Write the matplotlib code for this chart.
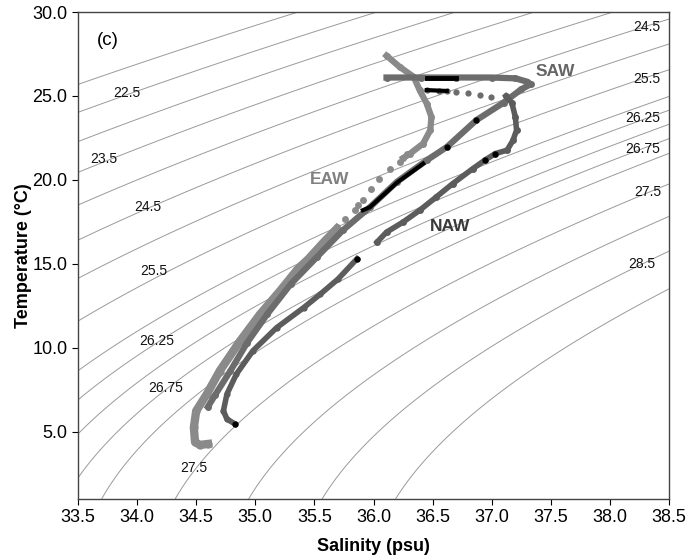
import numpy as np
import matplotlib
matplotlib.use("Agg")
import matplotlib.pyplot as plt

plt.rcParams['font.family'] = ['Liberation Sans', 'DejaVu Sans']

# ---- isopycnal levels (sigma-t, kg/m3) ----
sigma_levels = [22.0, 22.5, 23.0, 23.5, 24.0, 24.5, 25.0, 25.5, 26.0,
                26.25, 26.5, 26.75, 27.0, 27.5, 28.0, 28.5, 29.0]

# labelled isopycnals: (sigma, S, T) for the label placement
left_labels = [(22.5, 33.91, 25.17), (23.5, 33.72, 21.23), (24.5, 34.09, 18.37),
               (25.5, 34.14, 14.55), (26.25, 34.17, 10.43), (26.75, 34.24, 7.64),
               (27.5, 34.48, 2.87)]
right_labels = [(24.5, 38.31, 29.12), (25.5, 38.31, 26.04), (26.25, 38.28, 23.66),
                (26.75, 38.28, 21.87), (27.5, 38.32, 19.28), (28.5, 38.27, 15.0)]

# ---- profiles ----
# Eastern Atlantic Water: mixed layer / upper thermocline (continuous)
eaw_up_S = [36.11, 36.22, 36.34, 36.39, 36.45, 36.49, 36.48, 36.42, 36.31, 36.25]
eaw_up_T = [27.40, 26.74, 26.14, 25.35, 24.55, 23.75, 22.96, 22.17, 21.57, 21.30]
# sparse samples through the thermocline
eaw_mid_S = [36.28, 36.22, 36.14, 36.05, 35.98, 35.91, 35.87, 35.84, 35.76, 35.69]
eaw_mid_T = [21.57, 21.07, 20.67, 20.08, 19.48, 18.78, 18.48, 18.19, 17.69, 17.19]
# central water down to the bottom of the cast
eaw_dn_S = [35.69, 35.58, 35.45, 35.36, 35.21, 35.04, 34.87, 34.70, 34.59, 34.50,
            34.48, 34.49, 34.53, 34.60]
eaw_dn_T = [17.10, 16.30, 15.30, 14.70, 13.40, 12.00, 10.40, 8.64, 7.25, 6.25,
            5.26, 4.40, 4.22, 4.28]

# South Atlantic Water
saw_S = [36.11, 36.40, 36.70, 37.00, 37.20, 37.30, 37.33, 37.25, 37.10, 36.87,
         36.62, 36.45, 36.20, 35.97, 35.74, 35.52, 35.30, 35.10, 34.93, 34.79,
         34.66, 34.60]
saw_T = [26.10, 26.10, 26.10, 26.10, 26.05, 25.85, 25.70, 25.40, 24.60, 23.56,
         21.96, 21.17, 19.90, 18.38, 17.00, 15.40, 13.80, 12.00, 10.30, 8.64,
         7.20, 6.50]
saw_b_S = [36.45, 36.55, 36.62, 36.70, 36.80, 36.90, 36.99]
saw_b_T = [25.35, 25.32, 25.30, 25.25, 25.15, 25.05, 24.95]

# North Atlantic Water
naw_up_S = [37.12, 37.17, 37.20, 37.21, 37.18, 37.13, 37.03, 36.94, 36.84, 36.67,
            36.53, 36.39, 36.25, 36.11, 36.03]
naw_up_T = [25.00, 24.60, 23.75, 22.96, 22.36, 21.77, 21.57, 21.17, 20.67, 19.78,
            18.98, 18.19, 17.49, 16.89, 16.30]
naw_dn_S = [35.86, 35.70, 35.55, 35.41, 35.18, 34.98, 34.84, 34.76, 34.73, 34.76, 34.83]
naw_dn_T = [15.30, 14.10, 13.20, 12.40, 11.20, 9.83, 8.44, 7.25, 6.25, 5.76, 5.46]

# highlighted (black) stretches of the casts
blk_surf_S = [36.45, 36.70]
blk_surf_T = [26.10, 26.10]
blk_sub_S = [36.45, 36.62]
blk_sub_T = [25.35, 25.30]
blk_diag_S = [36.42, 36.20, 35.97, 35.91]
blk_diag_T = [20.97, 19.85, 18.38, 18.20]
blk_pts_S = [37.03, 36.94, 35.86, 34.83, 36.62, 36.87]
blk_pts_T = [21.57, 21.17, 15.30, 5.46, 21.96, 23.56]

# water-mass names: (text, S, T, colour)
mass_labels = [("EAW", 35.63, 20.0, "#808080"),
               ("SAW", 37.54, 26.45, "#656565"),
               ("NAW", 36.65, 17.2, "#3a3a3a")]


def sigma_t(S, T):
    """UNESCO (1981) one-atmosphere density anomaly."""
    rho_w = (999.842594 + 6.793952e-2 * T - 9.095290e-3 * T**2
             + 1.001685e-4 * T**3 - 1.120083e-6 * T**4 + 6.536332e-9 * T**5)
    A = (8.24493e-1 - 4.0899e-3 * T + 7.6438e-5 * T**2
         - 8.2467e-7 * T**3 + 5.3875e-9 * T**4)
    B = -5.72466e-3 + 1.0227e-4 * T - 1.6546e-6 * T**2
    C = 4.8314e-4
    return rho_w + A * S + B * S**1.5 + C * S**2 - 1000.0


fig = plt.figure(figsize=(6.88, 5.59), dpi=100)
ax = fig.add_axes([0.1134, 0.1073, 0.8590, 0.8712])

Sg, Tg = np.meshgrid(np.linspace(33.5, 38.5, 300), np.linspace(1.0, 30.0, 300))
ax.contour(Sg, Tg, sigma_t(Sg, Tg), levels=sigma_levels,
           colors="#9a9a9a", linewidths=0.7, zorder=1)

for lev, s, t in left_labels + right_labels:
    txt = f"{lev:g}" if lev * 4 % 2 else f"{lev:.1f}"
    ax.text(s, t, txt, fontsize=10, ha="center", va="center", color="#111111",
            zorder=2)

eaw_c, saw_c, naw_c = "#8a8a8a", "#6c6c6c", "#5c5c5c"

ax.plot(eaw_up_S, eaw_up_T, "-o", color=eaw_c, lw=4.5, ms=5, mew=0, zorder=3)
ax.plot(eaw_mid_S, eaw_mid_T, "o", color=eaw_c, ms=5, mew=0, zorder=3)
ax.plot(eaw_dn_S, eaw_dn_T, "-o", color=eaw_c, lw=6, ms=6, mew=0, zorder=3)

ax.plot(saw_S, saw_T, "-o", color=saw_c, lw=4.5, ms=5, mew=0, zorder=4)
ax.plot(saw_b_S, saw_b_T, "o", color=saw_c, ms=4.5, mew=0, zorder=4)

ax.plot(naw_up_S, naw_up_T, "-o", color=naw_c, lw=4, ms=5, mew=0, zorder=4)
ax.plot(naw_dn_S, naw_dn_T, "-o", color=naw_c, lw=4, ms=4.5, mew=0, zorder=4)

ax.plot(blk_surf_S, blk_surf_T, "-", color="black", lw=3.5, zorder=5)
ax.plot(blk_sub_S, blk_sub_T, "-", color="black", lw=3, zorder=5)
ax.plot(blk_diag_S, blk_diag_T, "-", color="black", lw=3, zorder=5)
ax.plot(blk_pts_S, blk_pts_T, "o", color="black", ms=4.5, mew=0, zorder=5)

for name, s, t, c in mass_labels:
    ax.text(s, t, name, fontsize=12.5, fontweight="bold", color=c,
            ha="center", va="center", zorder=6)

ax.text(0.05, 0.942, "(c)", transform=ax.transAxes, fontsize=13.5,
        ha="center", va="center")

ax.set_xlim(33.5, 38.5)
ax.set_ylim(1.0, 30.0)
ax.set_xticks(np.arange(33.5, 38.51, 0.5))
ax.set_yticks(np.arange(5.0, 30.01, 5.0))
ax.xaxis.set_major_formatter(matplotlib.ticker.FormatStrFormatter("%.1f"))
ax.yaxis.set_major_formatter(matplotlib.ticker.FormatStrFormatter("%.1f"))
ax.tick_params(labelsize=13, direction="out", length=4, width=0.8)
for sp in ax.spines.values():
    sp.set_linewidth(1.0)
    sp.set_color("#444444")

ax.set_xlabel("Salinity (psu)", fontsize=13, fontweight="bold", labelpad=8)
ax.set_ylabel("Temperature (\u00b0C)", fontsize=13, fontweight="bold", labelpad=0)

fig.savefig("out.png", dpi=100)
